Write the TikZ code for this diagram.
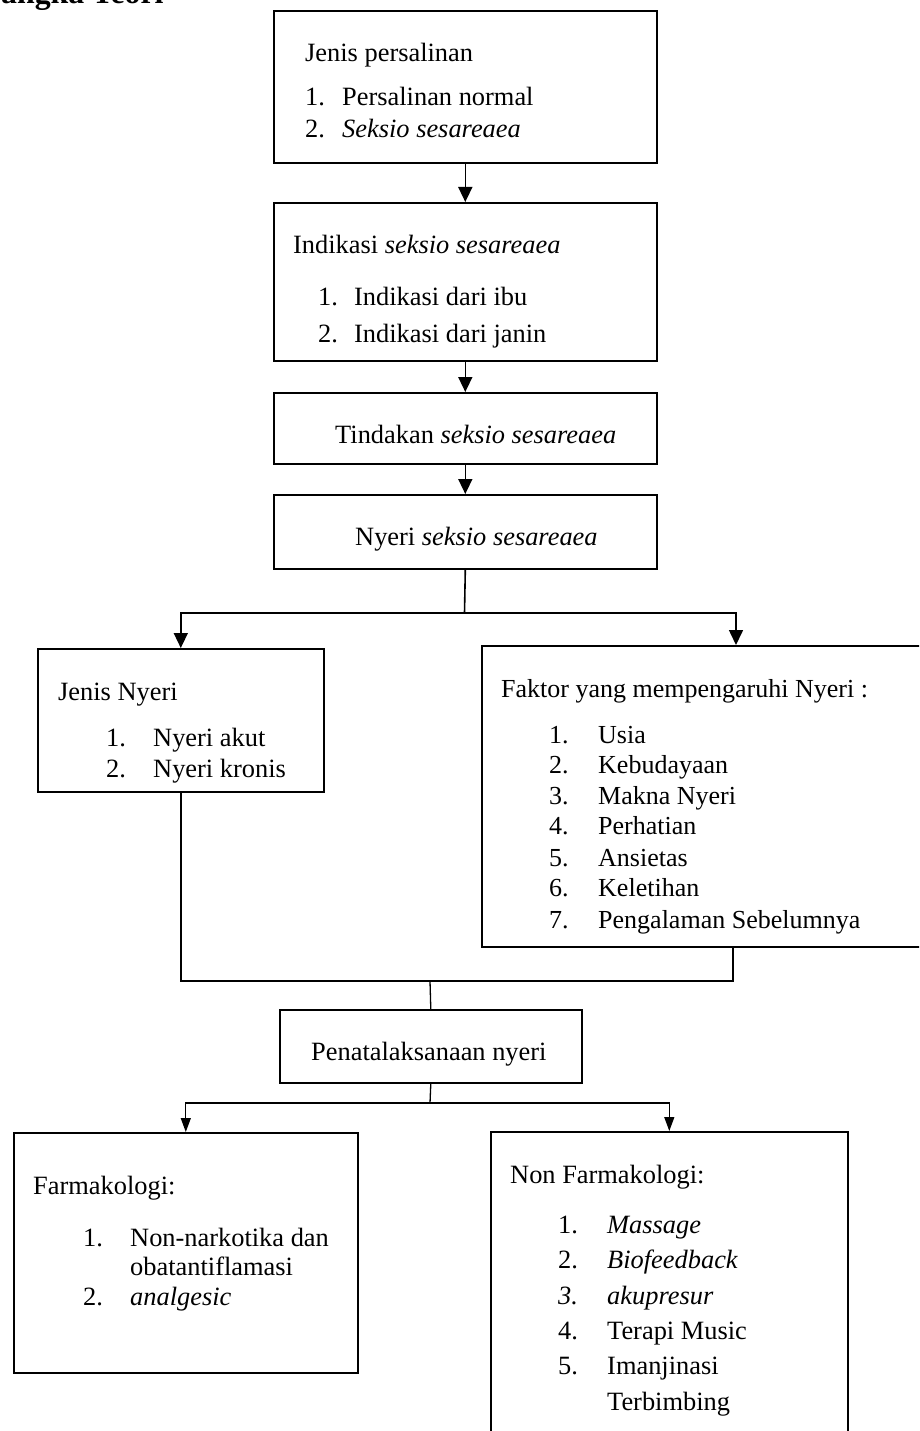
\documentclass[tikz,border=0pt]{standalone}
\usepackage{fontspec}
\setmainfont{Liberation Serif}
\usetikzlibrary{arrows.meta}
\begin{document}
\begin{tikzpicture}[x=1pt,y=-1pt,
  box/.style={draw, line width=1.6pt, inner sep=0pt, anchor=north west},
  conn/.style={line width=1.6pt},
  arr/.style={line width=1.6pt, -{Triangle[width=14pt,length=15pt]}},
  conntwo/.style={line width=1.3pt},
  arrtwo/.style={line width=1.3pt, -{Triangle[width=10pt,length=14pt]}},
  txt/.style={anchor=base west, inner sep=0pt, font=\fontsize{26.4}{30}\selectfont},
  ]
\useasboundingbox (0,0) rectangle (919,1431);
\clip (0,0) rectangle (919,1431);

\node[txt, font=\fontsize{31.8}{34}\selectfont\bfseries] (title) at (1,4) {angka Teori};

% boxes
\node[box, minimum width=383pt, minimum height=152pt] (b1) at (273,10) {};
\node[box, minimum width=383pt, minimum height=158pt] (b2) at (273,202) {};
\node[box, minimum width=383pt, minimum height=71pt] (b3) at (273,392) {};
\node[box, minimum width=383pt, minimum height=74pt] (b4) at (273,494) {};
\node[box, minimum width=286pt, minimum height=143pt] (b5) at (37,648) {};
\node[box, minimum width=450pt, minimum height=301pt] (b6) at (481,645) {};
\node[box, minimum width=302pt, minimum height=73pt] (b7) at (279,1009) {};
\node[box, minimum width=344pt, minimum height=240pt] (b8) at (13,1132) {};
\node[box, minimum width=357pt, minimum height=320pt] (b9) at (490,1131) {};

% box 1
\node[txt] (t1a) at (305,62) {Jenis persalinan};
\node[txt] (t1b) at (305,106) {1.};
\node[txt] (t1c) at (342,106) {Persalinan normal};
\node[txt] (t1d) at (305,138) {2.};
\node[txt] (t1e) at (342,138) {\textit{Seksio sesareaea}};
% box 2
\node[txt] (t2a) at (293,254) {Indikasi \textit{seksio sesareaea}};
\node[txt] (t2b) at (318,305) {1.};
\node[txt] (t2c) at (354,305) {Indikasi dari ibu};
\node[txt] (t2d) at (318,342) {2.};
\node[txt] (t2e) at (354,342) {Indikasi dari janin};
% box 3, 4
\node[txt] (t3) at (335,443) {Tindakan \textit{seksio sesareaea}};
\node[txt] (t4) at (355,545) {Nyeri \textit{seksio sesareaea}};
% box 5
\node[txt] (t5a) at (58,700) {Jenis Nyeri};
\node[txt] (t5b) at (106,746) {1.};
\node[txt] (t5c) at (153,746) {Nyeri akut};
\node[txt] (t5d) at (106,777) {2.};
\node[txt] (t5e) at (153,777) {Nyeri kronis};
% box 6
\node[txt, font=\fontsize{26}{30}\selectfont] (t6h) at (501,697) {Faktor yang mempengaruhi Nyeri :};
\foreach \n/\y/\t in {1/743/Usia, 2/773/Kebudayaan, 3/804/Makna Nyeri, 4/834/Perhatian, 5/866/Ansietas, 6/896/Keletihan, 7/928/Pengalaman Sebelumnya}{
  \node[txt, font=\fontsize{26}{30}\selectfont] (t6n\n) at (549,\y) {\n.};
  \node[txt, font=\fontsize{26}{30}\selectfont] (t6t\n) at (598,\y) {\t};
}
% box 7
\node[txt] (t7) at (311,1060) {Penatalaksanaan nyeri};
% box 8
\node[txt] (t8a) at (33,1194) {Farmakologi:};
\node[txt] (t8b) at (83,1246) {1.};
\node[txt] (t8c) at (130,1246) {Non-narkotika dan};
\node[txt] (t8d) at (130,1275) {obatantiflamasi};
\node[txt] (t8e) at (83,1305) {2.};
\node[txt] (t8f) at (130,1305) {\textit{analgesic}};
% box 9
\node[txt] (t9a) at (510,1183) {Non Farmakologi:};
\node[txt] (t9n1) at (558,1233) {1.};
\node[txt] (t9t1) at (607,1233) {\textit{Massage}};
\node[txt] (t9n2) at (558,1268) {2.};
\node[txt] (t9t2) at (607,1268) {\textit{Biofeedback}};
\node[txt] (t9n3) at (558,1304) {\textit{3.}};
\node[txt] (t9t3) at (607,1304) {\textit{akupresur}};
\node[txt] (t9n4) at (558,1339) {4.};
\node[txt] (t9t4) at (607,1339) {Terapi Music};
\node[txt] (t9n5) at (558,1374) {5.};
\node[txt] (t9t5) at (607,1374) {Imanjinasi};
\node[txt] (t9t6) at (607,1410) {Terbimbing};

% connectors
\draw[arr] (b1.south) -- (b2.north);
\draw[arr] (b2.south) -- (b3.north);
\draw[arr] (b3.south) -- (b4.north);
\coordinate (j1) at (464.5,613);
\coordinate (t6top) at (736,645);
\draw[conn] (b4.south) -- (j1);
\draw[arr] (j1) -| (b5.north);
\draw[arr] (j1) -| (t6top);
\coordinate (s6) at (733,946);
\coordinate (j2) at (430,981);
\draw[conn] (b5.south) |- (s6 |- j2) -- (s6);
\draw[conntwo] (j2) -- (b7.north);
\coordinate (j3) at (430,1103);
\draw[conntwo] (b7.south) -- (j3);
\draw[arrtwo] (j3) -| (b8.north);
\draw[arrtwo] (j3) -| (b9.north);
\end{tikzpicture}
\end{document}
